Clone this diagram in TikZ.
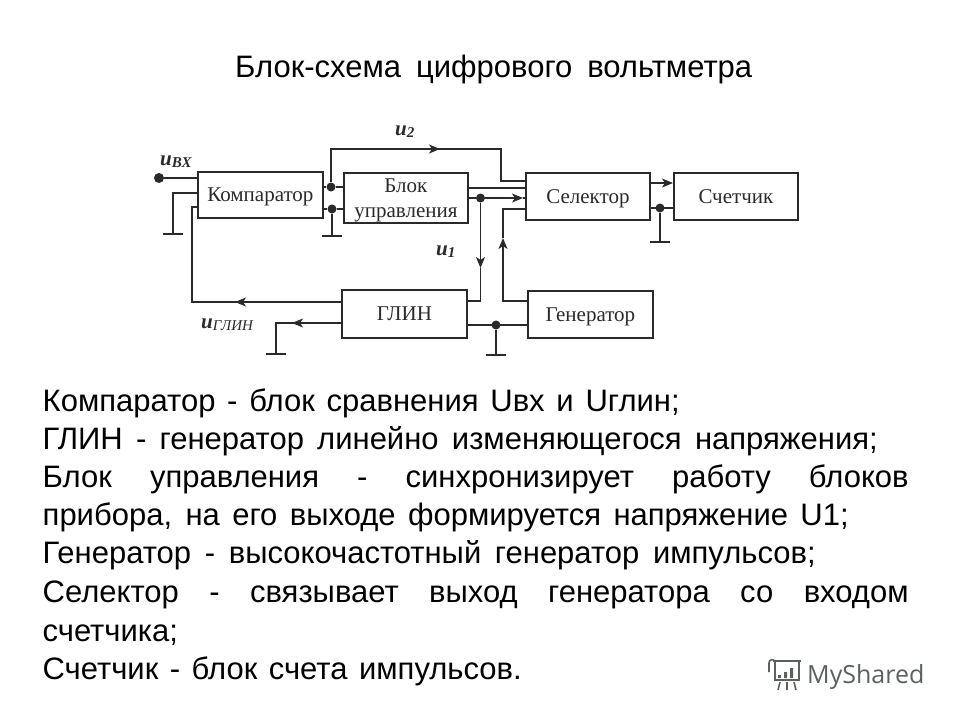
\documentclass[tikz,border=0pt]{standalone}
\usepackage{fontspec}
\setmainfont{Liberation Sans}
\newfontfamily\serifcyr{Liberation Serif}
\newfontfamily\logofont{Open Sans}
\usetikzlibrary{arrows.meta}
\definecolor{ink}{HTML}{2A2A2A}
\definecolor{logoc}{HTML}{5A625E}
\newcommand{\fitline}[2]{\makebox[#1pt][s]{#2}}
\newcommand{\sigu}[2]{{\fontsize{21}{21}\selectfont u}{\fontsize{15}{15}\selectfont\raisebox{-2.5pt}{#1#2}}}
\tikzset{
  x=1pt,y=-1pt,
  blockbox/.style={draw=ink,line width=1.8pt,inner sep=0pt,anchor=north west,font=\serifcyr\fontsize{21}{25}\selectfont,text=ink,align=center},
  oneline/.style={text height=19pt,text depth=5.5pt},
  wire/.style={draw=ink,line width=1.5pt},
  arrw/.style={wire,-{Stealth[length=11pt,width=9pt,inset=3pt]}},
  gnd/.style={draw=ink,line width=2.6pt},
  jdot/.style={circle,fill=ink,inner sep=0pt,minimum size=9pt},
  sig/.style={anchor=base west,font=\serifcyr\bfseries\itshape,text=ink,inner sep=0pt},
  body/.style={anchor=base west,inner sep=0pt,font=\fontsize{31}{36}\selectfont,text=black},
}
\begin{document}
\begin{tikzpicture}
\useasboundingbox (0,0) rectangle (960,720);
\fill[white] (0,0) rectangle (960,720);
\node[body] (title) at (235,77) {\fitline{517}{Блок-схема цифрового вольтметра}};

\node[blockbox,oneline,minimum width=125pt,minimum height=46pt] (comp) at (197,171) {Компаратор};
\node[blockbox,minimum width=124pt,minimum height=50pt] (ctrl) at (343,172) {\rule{0pt}{18pt}Блок\\управления};
\node[blockbox,oneline,minimum width=124pt,minimum height=47pt] (sel) at (525,172) {Селектор};
\node[blockbox,oneline,minimum width=124pt,minimum height=47pt] (cnt) at (673,172) {Счетчик};
\node[blockbox,oneline,minimum width=125pt,minimum height=48pt] (glin) at (341,289) {ГЛИН};
\node[blockbox,oneline,minimum width=125pt,minimum height=47pt] (gen) at (527,290) {Генератор};

\node[jdot,minimum size=10pt] (in) at (159,178) {};
\node[jdot] (j1) at (331,187) {};
\node[jdot] (j2) at (332,209) {};
\node[jdot] (j3) at (480.5,198) {};
\node[jdot] (j4) at (660,208) {};
\node[jdot] (j5) at (496,325) {};
\coordinate (g1) at (173,234);
\coordinate (g2) at (332,236);
\coordinate (g3) at (660,242);
\coordinate (g4) at (276,354);
\coordinate (g5) at (496,355);

\draw[wire] (in) -- (comp.west |- in);
\draw[wire] (comp.west |- 0,193) -| (g1);
\draw[gnd] ([xshift=-10pt]g1) -- ([xshift=10pt]g1);
\draw[wire] (glin.west |- 0,302) -| (192,207) -- (comp.west |- 0,207);
\draw[arrw] (glin.west |- 0,302) -- (235,302);
\draw[wire] (comp.east |- j1) -- (j1) -- (ctrl.west |- j1);
\draw[wire] (comp.east |- j2) -- (j2) -- (ctrl.west |- j2);
\draw[wire] (j2) -- (g2);
\draw[gnd] ([xshift=-10pt]g2) -- ([xshift=10pt]g2);
\draw[wire] (j1) |- (501,149) |- (sel.west |- 0,181);
\draw[arrw] (331,149) -- (440,149);
\draw[wire] (ctrl.east |- 0,188) -- (sel.west |- 0,188);
\draw[wire] (ctrl.east |- j3) -- (j3);
\draw[arrw] (j3) -- (523,198);
\draw[wire] (523,198) -- (sel.west |- j3);
\draw[arrw] (j3) -- (480.5,268);
\draw[wire] (480.5,268) |- (glin.east |- 0,301);
\draw[wire] (sel.west |- 0,209) -| (503,238);
\draw[arrw] (gen.west |- 0,301) -| (503,238);
\draw[arrw] (sel.east |- 0,183) -- (cnt.west |- 0,183);
\draw[wire] (sel.east |- j4) -- (cnt.west |- j4);
\draw[wire] (j4) -- (g3);
\draw[gnd] ([xshift=-10pt]g3) -- ([xshift=10pt]g3);
\draw[wire] (glin.east |- j5) -- (gen.west |- j5);
\draw[wire] (j5) -- (g5);
\draw[gnd] ([xshift=-10pt]g5) -- ([xshift=10pt]g5);
\draw[wire] (glin.west |- 0,323) -| (g4);
\draw[arrw] (glin.west |- 0,323) -- (292,323);
\draw[gnd] ([xshift=-10pt]g4) -- ([xshift=10pt]g4);

\node[sig] (u2) at (395,135) {\sigu{}{2}};
\node[sig] (uin) at (160,165) {\sigu{}{ВХ}};
\node[sig] (u1) at (436,255) {\sigu{}{1}};
\node[sig] (uglin) at (201,328) {\sigu{\mdseries}{ГЛИН}};

\node[body] (l1) at (42.5,411) {\fitline{637}{Компаратор - блок сравнения Uвх и Uглин;}};
\node[body] (l2) at (42.5,449) {\fitline{835}{ГЛИН - генератор линейно изменяющегося напряжения;}};
\node[body] (l3) at (42.5,487) {\fitline{866}{Блок управления - синхронизирует работу блоков}};
\node[body] (l4) at (42.5,525) {\fitline{806}{прибора, на его выходе формируется напряжение U1;}};
\node[body] (l5) at (42.5,563) {\fitline{773}{Генератор - высокочастотный генератор импульсов;}};
\node[body] (l6) at (42.5,602) {\fitline{866}{Селектор - связывает выход генератора со входом}};
\node[body] (l7) at (42.5,641) {счетчика;};
\node[body] (l8) at (42.5,679) {\fitline{479}{Счетчик - блок счета импульсов.}};

\begin{scope}[draw=logoc,line width=1.6pt]
\draw (773,661) -- (801,661) (775,661) -- (775,680) -- (799,680) -- (799,661);
\draw (769,672) -- (769,663) .. controls (769,659) and (773,659) .. (775,661);
\fill[logoc] (778,675) rectangle (781,678) (784,672) rectangle (787,678) (790,668) rectangle (793,678);
\draw (780,682) -- (778,690) (787,682) -- (787,690) (794,682) -- (796,690);
\end{scope}
\node[anchor=base west,inner sep=0pt,text=logoc,font=\logofont\fontsize{25}{28}\selectfont] (logo) at (807,683) {MyShared};
\end{tikzpicture}
\end{document}
